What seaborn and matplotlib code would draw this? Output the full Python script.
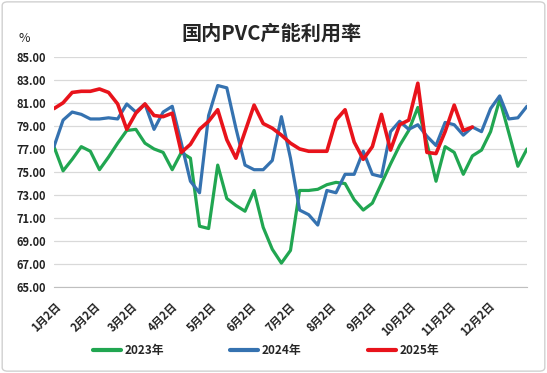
import seaborn as sns
import pandas as pd
import matplotlib.pyplot as plt
from matplotlib.patches import FancyBboxPatch

# -----------------------------------------------------------------------------
# Data (weekly capacity utilisation, %)
# -----------------------------------------------------------------------------

y2023 = [77.2, 75.1, 76.1, 77.2, 76.8, 75.2, 76.3, 77.5, 78.6, 78.7,
         77.5, 77.0, 76.7, 75.2, 76.7, 76.2, 70.3, 70.1, 75.6, 72.7,
         72.1, 71.6, 73.4, 70.2, 68.3, 67.1, 68.2, 73.4, 73.4, 73.5,
         73.9, 74.1, 74.0, 72.6, 71.7, 72.3, 74.0, 75.7, 77.3, 78.6,
         80.6, 77.5, 74.2, 77.2, 76.7, 74.8, 76.4, 76.9, 78.5, 81.3,
         78.4, 75.5, 77.0]

y2024 = [77.2, 79.5, 80.2, 80.0, 79.6, 79.6, 79.7, 79.6, 80.9, 80.2,
         80.9, 78.7, 80.2, 80.7, 77.5, 74.2, 73.2, 79.9, 82.5, 82.3,
         78.8, 75.6, 75.2, 75.2, 76.0, 79.8, 76.2, 71.7, 71.3, 70.4,
         73.4, 73.2, 74.8, 74.8, 76.8, 74.8, 74.6, 78.5, 79.4, 78.7,
         79.1, 78.1, 77.3, 79.3, 79.1, 78.2, 78.9, 78.5, 80.5, 81.6,
         79.6, 79.7, 80.7]

y2025 = [80.5, 81.0, 81.9, 82.0, 82.0, 82.2, 81.9, 80.9, 78.7, 80.1,
         80.9, 79.9, 79.8, 80.1, 76.7, 77.4, 78.7, 79.4, 80.4, 77.8,
         76.2, 78.5, 80.8, 79.2, 78.8, 78.2, 77.5, 77.0, 76.8, 76.8,
         76.8, 79.5, 80.4, 77.6, 76.1, 77.2, 80.0, 76.9, 79.1, 79.5,
         82.7, 76.7, 76.6, 78.5, 80.8, 78.6, 78.9]

series_names = ["2023年", "2024年", "2025年"]
series_colors = ["#21A651", "#3572B0", "#E8131B"]
tick_labels = [f"{m}月2日" for m in range(1, 13)]

# common calendar for the x axis (weekly points from Jan 2)
weeks = pd.date_range("2023-01-02", periods=53, freq="7D")

rows = []
for name, vals in zip(series_names, [y2023, y2024, y2025]):
    for d, v in zip(weeks, vals):
        rows.append({"date": d, "value": v, "year": name})
df = pd.DataFrame(rows)

# -----------------------------------------------------------------------------
# Plot
# -----------------------------------------------------------------------------

sns.set_style("white")
plt.rcParams["font.family"] = ["Noto Sans CJK SC", "DejaVu Sans"]

fig = plt.figure(figsize=(5.47, 3.73), dpi=100)
ax = fig.add_axes([0.0987, 0.2297, 0.8647, 0.6183])

sns.lineplot(data=df, x="date", y="value", hue="year",
             palette=dict(zip(series_names, series_colors)),
             linewidth=2.3, ax=ax, legend=False)
# red line is a touch heavier in the original
ax.lines[2].set_linewidth(2.6)

ax.set_ylim(65, 85)
ax.set_yticks(range(65, 86, 2))
ax.set_yticklabels([f"{v:.2f}" for v in range(65, 86, 2)],
                   fontsize=8, fontweight="bold", color="#222222")
ax.set_xlim(weeks[0], weeks[-1])
ticks = pd.date_range("2023-01-01", periods=12, freq="MS") + pd.Timedelta(days=1)
ax.set_xticks(ticks)
ax.set_xticklabels(tick_labels, rotation=45, ha="right", rotation_mode="anchor",
                   fontsize=8, fontweight="bold", color="#222222")
ax.set_xlabel("")
ax.set_ylabel("")

ax.yaxis.grid(True, color="#D9D9D9", linewidth=0.9)
ax.xaxis.grid(False)
for s in ["left", "right", "top"]:
    ax.spines[s].set_visible(False)
ax.spines["bottom"].set_color("#BFBFBF")
ax.spines["bottom"].set_zorder(0)
ax.tick_params(axis="x", which="major", length=5, color="#BFBFBF",
               direction="out", pad=4)
ax.tick_params(axis="y", length=0, pad=6)

fig.text(0.497, 0.912, "国内PVC产能利用率", ha="center", va="center",
         fontsize=14.5, fontweight="bold")
fig.text(0.033, 0.897, "%", ha="left", va="center", fontsize=9)

handles = [plt.Line2D([], [], color=c, linewidth=3) for c in series_colors]
fig.legend(handles, series_names, loc="center", bbox_to_anchor=(0.486, 0.06),
           ncol=3, frameon=False, handlelength=2.4, handletextpad=0.3,
           columnspacing=5.6, prop={"size": 8.5, "weight": "bold"})

# light rounded frame around the whole chart
fig.patches.append(FancyBboxPatch((0.004, 0.005), 0.992, 0.99,
                                  boxstyle="round,pad=0,rounding_size=0.01",
                                  transform=fig.transFigure, fill=False,
                                  edgecolor="#D0D0D0", linewidth=1))

fig.savefig("out.png", dpi=100)
